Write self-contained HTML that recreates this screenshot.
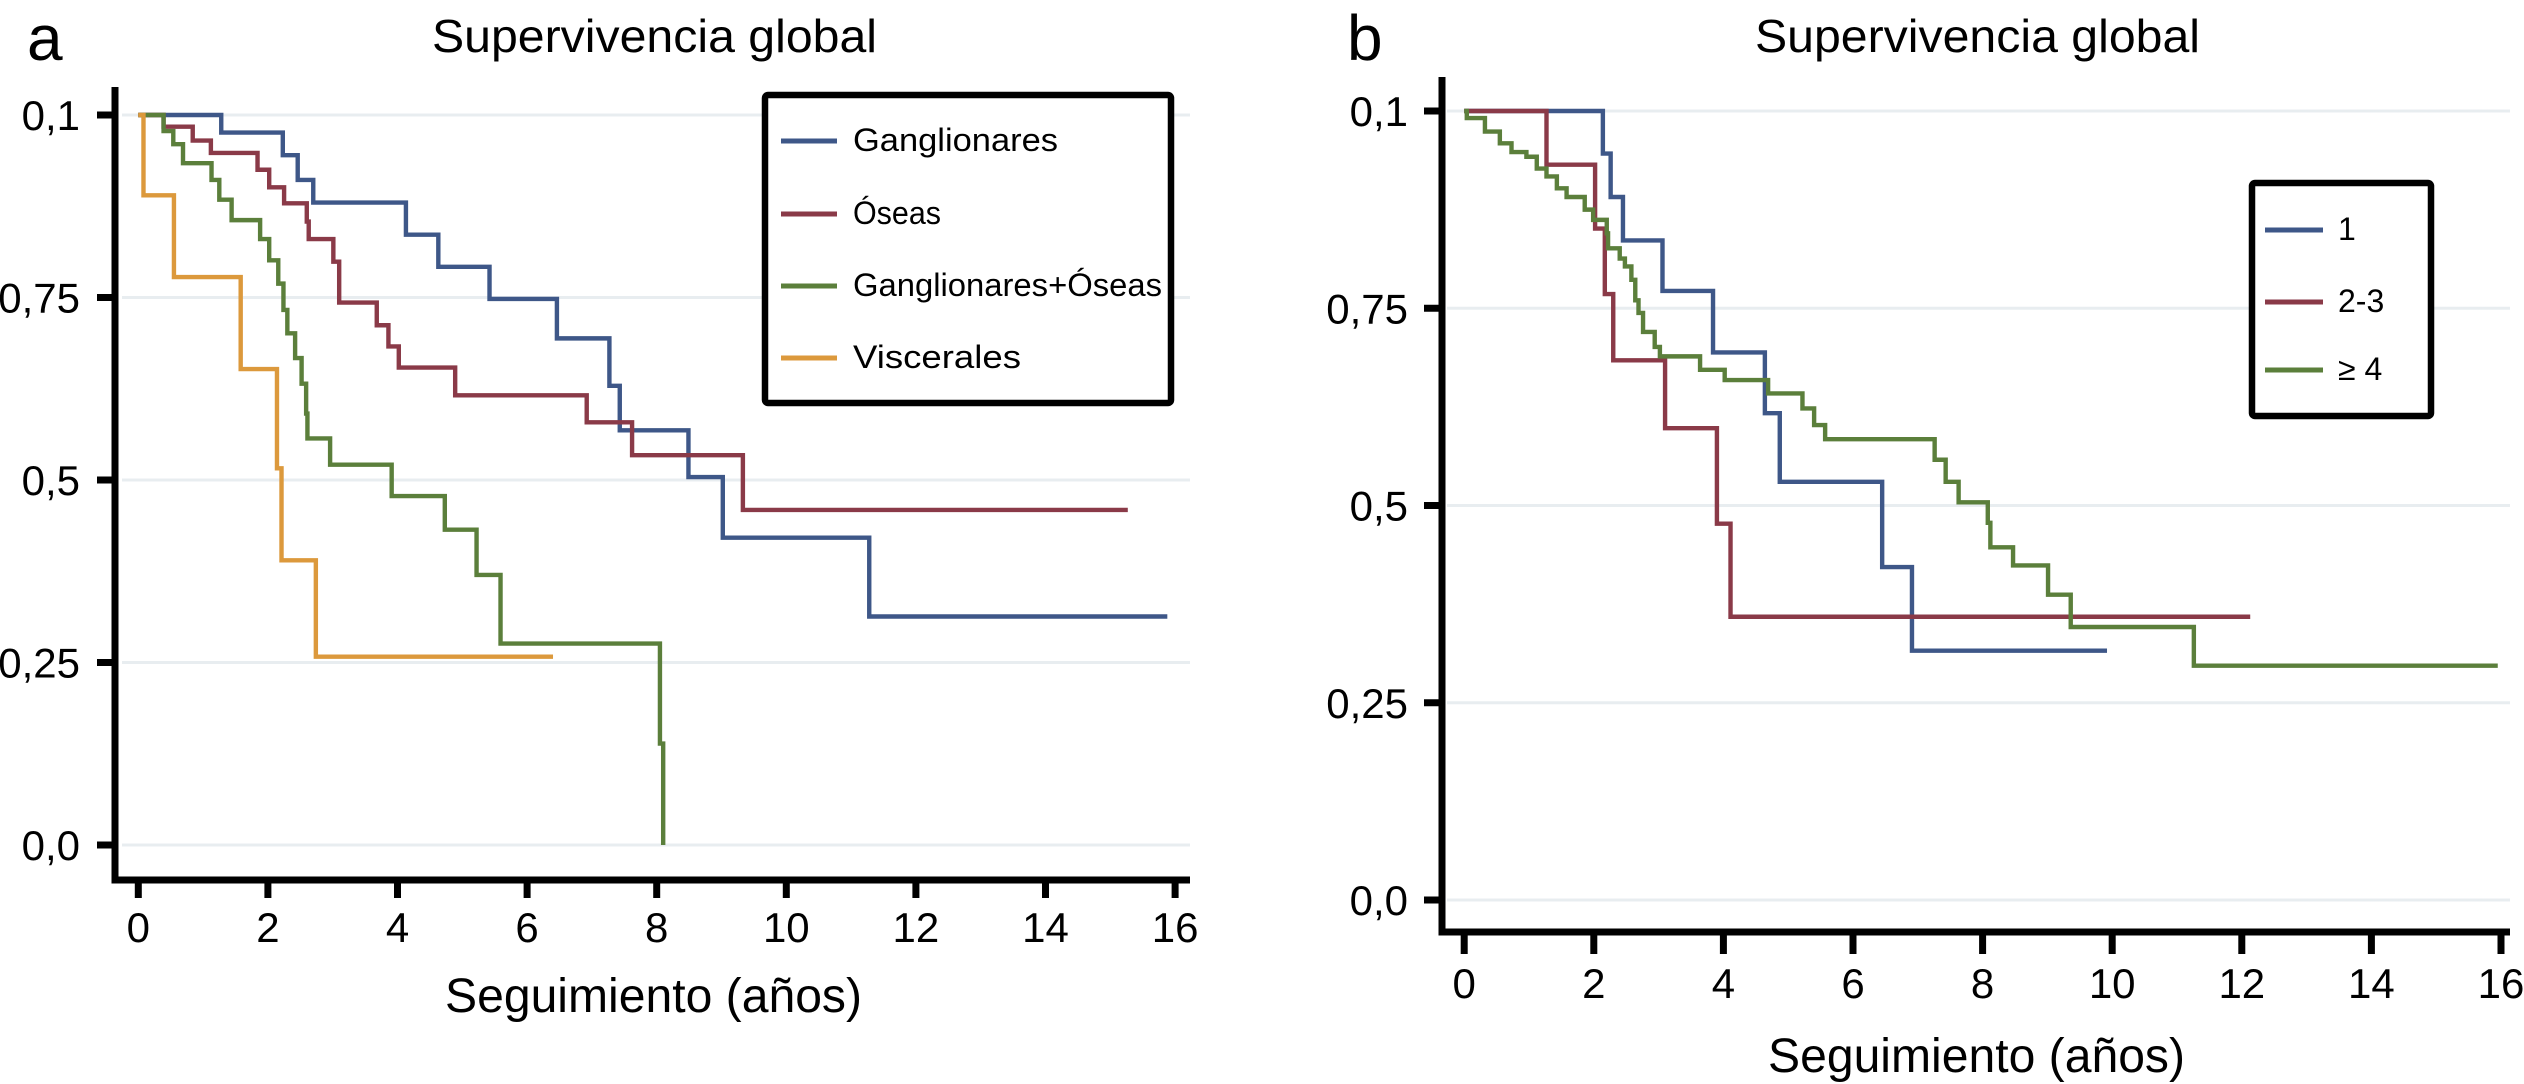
<!DOCTYPE html>
<html><head><meta charset="utf-8"><style>
html,body{margin:0;padding:0;background:#fff;}
svg{display:block;}
text{font-family:"Liberation Sans",Arial,sans-serif;fill:#000;}
</style></head><body>
<svg id="fig" xmlns="http://www.w3.org/2000/svg" width="2524" height="1084" viewBox="0 0 2524 1084">
<rect width="2524" height="1084" fill="#fff"/>
<text x="27" y="60" font-size="64">a</text>
<text x="432" y="52" font-size="46" textLength="445" lengthAdjust="spacingAndGlyphs">Supervivencia global</text>
<text x="1347" y="60" font-size="64">b</text>
<text x="1755" y="52" font-size="46" textLength="445" lengthAdjust="spacingAndGlyphs">Supervivencia global</text>
<text x="445" y="1012" font-size="48" textLength="417" lengthAdjust="spacingAndGlyphs">Seguimiento (años)</text>
<text x="1768" y="1072" font-size="48" textLength="417" lengthAdjust="spacingAndGlyphs">Seguimiento (años)</text>
<g id="ga"></g>
<g id="gb"></g>
</svg>
<script>
// ---------- data ----------
const yTickValues = [1, 0.75, 0.5, 0.25, 0];
const yTickLabels = ["0,1", "0,75", "0,5", "0,25", "0,0"];
const xTickValues = [0, 2, 4, 6, 8, 10, 12, 14, 16];
const xTickLabels = ["0", "2", "4", "6", "8", "10", "12", "14", "16"];

// Panel a
const aSeriesNames = ["Ganglionares", "Óseas", "Ganglionares+Óseas", "Viscerales"];
const aGangTimes = [1.28, 2.23, 2.46, 2.70, 4.13, 4.63, 5.42, 6.46, 7.27, 7.43, 8.49, 9.02, 11.28];
const aGangSurv  = [0.976, 0.945, 0.911, 0.880, 0.836, 0.792, 0.748, 0.694, 0.629, 0.568, 0.504, 0.421, 0.313];
const aGangEnd = 15.88;
const aOseTimes = [0.39, 0.84, 1.12, 1.84, 2.02, 2.25, 2.60, 2.63, 3.01, 3.10, 3.68, 3.86, 4.02, 4.89, 6.92, 7.62, 9.33];
const aOseSurv  = [0.984, 0.965, 0.948, 0.925, 0.901, 0.879, 0.854, 0.830, 0.799, 0.743, 0.712, 0.683, 0.654, 0.616, 0.579, 0.534, 0.459];
const aOseEnd = 15.27;
const aGoTimes = [0.39, 0.54, 0.69, 1.13, 1.25, 1.44, 1.88, 2.02, 2.16, 2.24, 2.30, 2.42, 2.52, 2.59, 2.61, 2.96, 3.91, 4.73, 5.22, 5.59, 8.05, 8.10];
const aGoSurv  = [0.978, 0.960, 0.934, 0.911, 0.884, 0.856, 0.830, 0.801, 0.769, 0.733, 0.701, 0.667, 0.632, 0.591, 0.557, 0.521, 0.478, 0.432, 0.370, 0.276, 0.139, 0.0];
const aGoEnd = 8.10;
const aVisTimes = [0.08, 0.55, 1.58, 2.14, 2.21, 2.74];
const aVisSurv  = [0.890, 0.778, 0.652, 0.516, 0.390, 0.258];
const aVisEnd = 6.40;

// Panel b
const bSeriesNames = ["1", "2-3", "≥ 4"];
const b1Times = [2.14, 2.26, 2.45, 3.06, 3.84, 4.64, 4.87, 6.45, 6.91];
const b1Surv  = [0.946, 0.891, 0.836, 0.772, 0.694, 0.617, 0.530, 0.422, 0.316];
const b1End = 9.92;
const b23Times = [1.27, 2.02, 2.17, 2.30, 3.10, 3.90, 4.11];
const b23Surv  = [0.932, 0.851, 0.768, 0.684, 0.598, 0.477, 0.359];
const b23End = 12.13;
const b4Times = [0.04, 0.32, 0.55, 0.73, 0.96, 1.12, 1.27, 1.43, 1.58, 1.86, 1.99, 2.20, 2.22, 2.40, 2.48, 2.58, 2.64, 2.69, 2.76, 2.94, 3.02, 3.64, 4.02, 4.69, 5.22, 5.40, 5.57, 7.26, 7.43, 7.63, 8.08, 8.12, 8.47, 9.01, 9.36, 11.26];
const b4Surv  = [0.991, 0.974, 0.959, 0.948, 0.942, 0.927, 0.917, 0.902, 0.891, 0.875, 0.862, 0.845, 0.826, 0.813, 0.803, 0.786, 0.760, 0.744, 0.720, 0.701, 0.689, 0.672, 0.659, 0.642, 0.623, 0.602, 0.584, 0.558, 0.530, 0.504, 0.478, 0.447, 0.424, 0.387, 0.346, 0.297];
const b4End = 15.95;

// ---------- drawing ----------
const NS = "http://www.w3.org/2000/svg";
const COLORS = {blue: "#3e5788", red: "#8a3a48", green: "#5b7f3b", orange: "#dc993c"};

function mk(tag, attrs, parent) {
  const el = document.createElementNS(NS, tag);
  for (const k in attrs) el.setAttribute(k, attrs[k]);
  parent.appendChild(el);
  return el;
}

function drawPanel(g, cfg) {
  const X = t => cfg.x0 + cfg.xs * t;
  const Y = s => cfg.y0 - cfg.ys * s;
  yTickValues.forEach(v => {
    const gl = mk("line", {x1: cfg.gridL, x2: cfg.gridR, y1: Y(v), y2: Y(v), stroke: "#e8edf0", "stroke-width": 3}, g);
    
    
  });
  const ya = mk("line", {x1: cfg.axX, x2: cfg.axX, y1: cfg.axTop, y2: cfg.axY + 3.5, stroke: "#000", "stroke-width": 7}, g);
  
  
  const xa = mk("line", {x1: cfg.axX - 3.5, x2: cfg.axRight, y1: cfg.axY, y2: cfg.axY, stroke: "#000", "stroke-width": 7}, g);
  
  
  yTickValues.forEach((v, i) => {
    const tk = mk("line", {x1: cfg.axX - 18, x2: cfg.axX, y1: Y(v), y2: Y(v), stroke: "#000", "stroke-width": 7}, g);
    
    
    const tx = mk("text", {x: cfg.yLabR, y: Y(v) + 15, "font-size": 42, "text-anchor": "end"}, g);
    tx.textContent = yTickLabels[i];
    
    
  });
  xTickValues.forEach((v, i) => {
    const tk = mk("line", {x1: X(v), x2: X(v), y1: cfg.axY, y2: cfg.axY + cfg.tickLen, stroke: "#000", "stroke-width": 7}, g);
    
    
    const tx = mk("text", {x: X(v), y: cfg.xLabY, "font-size": 42, "text-anchor": "middle"}, g);
    tx.textContent = xTickLabels[i];
    
    
  });
  cfg.series.forEach(s => {
    let d = "M" + X(0) + "," + Y(1);
    for (let i = 0; i < s.times.length; i++) {
      d += " H" + X(s.times[i]) + " V" + Y(s.surv[i]);
    }
    d += " H" + X(s.end);
    const p = mk("path", {d: d, fill: "none", stroke: s.color, "stroke-width": 4.4, "stroke-linejoin": "miter"}, g);
    
    
  });
  const L = cfg.legend;
  const box = mk("rect", {x: L.x, y: L.y, width: L.w, height: L.h, fill: "#fff", stroke: "#000", "stroke-width": 6.5, rx: 3}, g);
  
  
  cfg.series.forEach((s, i) => {
    const by = L.base[i];
    const ln = mk("line", {x1: L.lx1, x2: L.lx2, y1: by - 10, y2: by - 10, stroke: s.color, "stroke-width": 5}, g);
    
    
    const tx = mk("text", {x: L.tx, y: by, "font-size": L.fs}, g);
    tx.textContent = s.label;
    if (L.tl && L.tl[i]) { tx.setAttribute("textLength", L.tl[i]); tx.setAttribute("lengthAdjust", "spacingAndGlyphs"); }
    
    
  });
}

drawPanel(document.getElementById("ga"), {
  x0: 138.3, xs: 64.8, y0: 845, ys: 730,
  gridL: 122, gridR: 1190, axX: 115, axTop: 87, axY: 880, axRight: 1190,
  yLabR: 80, xLabY: 942, tickLen: 18,
  series: [
    {name: "series-ganglionares", label: aSeriesNames[0], times: aGangTimes, surv: aGangSurv, end: aGangEnd, color: COLORS.blue},
    {name: "series-oseas", label: aSeriesNames[1], times: aOseTimes, surv: aOseSurv, end: aOseEnd, color: COLORS.red},
    {name: "series-ganglionares-oseas", label: aSeriesNames[2], times: aGoTimes, surv: aGoSurv, end: aGoEnd, color: COLORS.green},
    {name: "series-viscerales", label: aSeriesNames[3], times: aVisTimes, surv: aVisSurv, end: aVisEnd, color: COLORS.orange}
  ],
  legend: {x: 765, y: 95, w: 406, h: 308, lx1: 781, lx2: 837, tx: 853, fs: 32,
           base: [151, 224, 296, 368], tl: [205, 88, 309, 168]}
});

drawPanel(document.getElementById("gb"), {
  x0: 1464.2, xs: 64.8, y0: 900, ys: 789,
  gridL: 1447, gridR: 2510, axX: 1442, axTop: 77, axY: 932, axRight: 2510,
  yLabR: 1408, xLabY: 998, tickLen: 22,
  series: [
    {name: "series-1-metastasis", label: bSeriesNames[0], times: b1Times, surv: b1Surv, end: b1End, color: COLORS.blue},
    {name: "series-2-3-metastasis", label: bSeriesNames[1], times: b23Times, surv: b23Surv, end: b23End, color: COLORS.red},
    {name: "series-4-plus-metastasis", label: bSeriesNames[2], times: b4Times, surv: b4Surv, end: b4End, color: COLORS.green}
  ],
  legend: {x: 2252, y: 183, w: 179, h: 233, lx1: 2265, lx2: 2323, tx: 2338, fs: 32,
           base: [240, 312, 380], tl: null}
});
</script>
</body></html>
